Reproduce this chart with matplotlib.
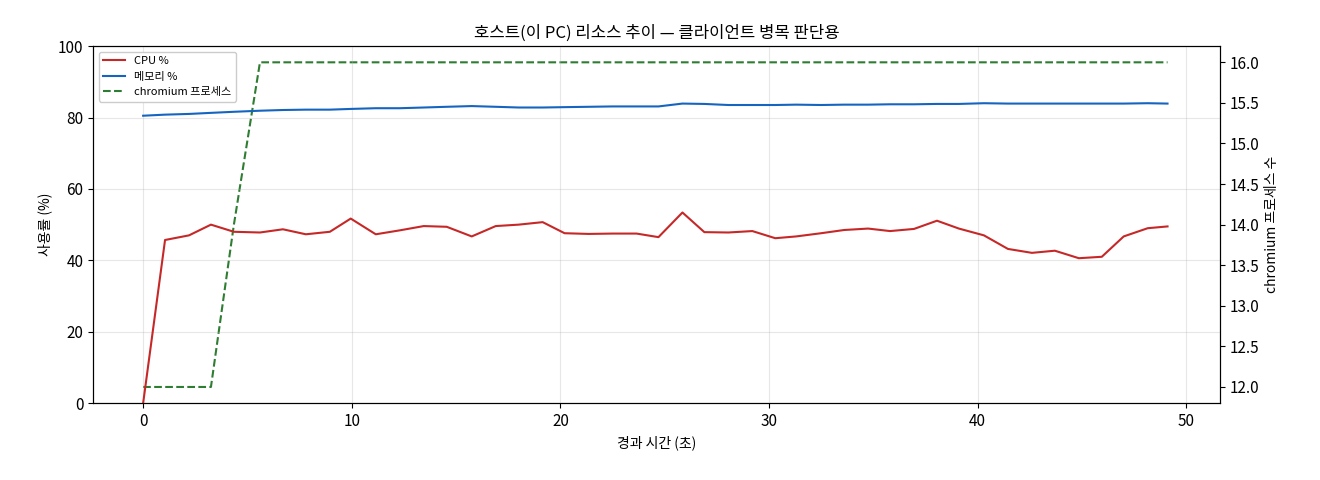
import numpy as np
import matplotlib
matplotlib.use('Agg')
import matplotlib.pyplot as plt

plt.rcParams['font.family'] = ['Noto Sans CJK KR', 'DejaVu Sans']
plt.rcParams['axes.unicode_minus'] = False
plt.rcParams['xtick.labelsize'] = 11
plt.rcParams['ytick.labelsize'] = 11

# elapsed seconds
t = [0, 1.05, 2.2, 3.25, 4.35, 5.6, 6.7, 7.8, 8.95, 9.95, 11.15, 12.3, 13.45, 14.55, 15.75,
     16.9, 18.0, 19.15, 20.2, 21.35, 22.5, 23.65, 24.7, 25.85, 26.9, 28.05, 29.2, 30.3, 31.3,
     32.5, 33.6, 34.75, 35.8, 36.95, 38.05, 39.1, 40.3, 41.45, 42.6, 43.7, 44.85, 45.95, 47.0,
     48.15, 49.1]
cpu = [0, 45.7, 47, 50, 48, 47.8, 48.7, 47.3, 48, 51.7, 47.3, 48.4, 49.6, 49.4, 46.7, 49.6,
       50, 50.7, 47.6, 47.4, 47.5, 47.5, 46.5, 53.4, 47.9, 47.8, 48.2, 46.2, 46.7, 47.6, 48.5,
       48.9, 48.2, 48.8, 51.1, 48.9, 47, 43.2, 42.1, 42.7, 40.6, 41, 46.7, 49, 49.5]
mem = [80.5, 80.8, 81, 81.3, 81.6, 81.9, 82.1, 82.2, 82.2, 82.4, 82.6, 82.6, 82.8, 83, 83.2,
       83, 82.8, 82.8, 82.9, 83, 83.1, 83.1, 83.1, 83.9, 83.8, 83.5, 83.5, 83.5, 83.6, 83.5,
       83.6, 83.6, 83.7, 83.7, 83.8, 83.8, 84, 83.9, 83.9, 83.9, 83.9, 83.9, 83.9, 84, 83.9]
chromium = [12, 12, 12, 12, 14, 16] + [16] * 39

fig = plt.figure(figsize=(13.2, 4.8), dpi=100)
ax = fig.add_axes([0.0705, 0.16, 0.8535, 0.744])
ax2 = ax.twinx()

l1, = ax.plot(t, cpu, color='#c62828', lw=1.5, label='CPU %')
l2, = ax.plot(t, mem, color='#1565c0', lw=1.5, label='메모리 %')
l3, = ax2.plot(t, chromium, color='#2e7d32', lw=1.5, ls='--', label='chromium 프로세스')

ax.set_ylim(0, 100)
ax.set_xlim(-2.4, 51.6)
ax2.set_ylim(11.8, 16.2)
ax.grid(True, alpha=0.3)
ax.set_xlabel('경과 시간 (초)')
ax.set_ylabel('사용률 (%)')
ax2.set_ylabel('chromium 프로세스 수')
ax.set_title('호스트(이 PC) 리소스 추이 — 클라이언트 병목 판단용', fontsize=12)
leg = ax.legend(handles=[l1, l2, l3], loc='upper left', fontsize=8, framealpha=1)
leg.set_zorder(10)
ax.set_zorder(ax2.get_zorder() + 1)
ax.patch.set_visible(False)

plt.savefig('out.png', dpi=100)
